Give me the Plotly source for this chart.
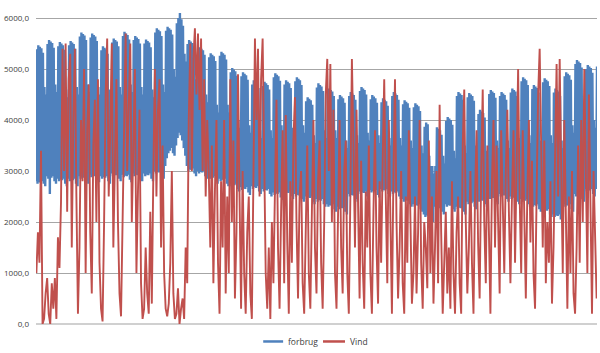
import plotly.graph_objects as go

# Daily consumption peak (day) values, one row per week
forbrug_peak = [
    5390, 5470, 5440, 5410, 5320, 4650, 4500,
    5490, 5570, 5540, 5510, 5420, 4700, 4550,
    5450, 5530, 5500, 5470, 5380, 4600, 4450,
    5470, 5550, 5520, 5490, 5400, 4650, 4500,
    5640, 5720, 5690, 5660, 5570, 4700, 4550,
    5620, 5700, 5670, 5640, 5550, 4650, 4500,
    5370, 5450, 5420, 5390, 5300, 4600, 4450,
    5520, 5600, 5570, 5540, 5450, 4650, 4500,
    5650, 5730, 5700, 5670, 5580, 4700, 4550,
    5570, 5650, 5620, 5590, 5500, 4650, 4500,
    5500, 5580, 5550, 5520, 5430, 4600, 4450,
    5720, 5800, 5770, 5740, 5650, 4700, 4550,
    5750, 5830, 5800, 5770, 5680, 5000, 4850,
    5900, 6000, 6100, 5980, 5850, 5300, 5150,
    5490, 5570, 5540, 5510, 5420, 4800, 4650,
    5350, 5430, 5400, 5370, 5280, 4500, 4350,
    5230, 5310, 5280, 5250, 5160, 4300, 4150,
    5260, 5340, 5310, 5280, 5190, 4300, 4150,
    4940, 5020, 4990, 4960, 4870, 4000, 3850,
    4860, 4940, 4910, 4880, 4790, 3900, 3750,
    4700, 4780, 4750, 4720, 4630, 3800, 3650,
    4670, 4750, 4720, 4690, 4600, 3800, 3650,
    4840, 4920, 4890, 4860, 4770, 3900, 3750,
    4700, 4780, 4750, 4720, 4630, 3850, 3700,
    4760, 4840, 4810, 4780, 4690, 3900, 3750,
    4370, 4450, 4420, 4390, 4300, 3700, 3550,
    4640, 4720, 4690, 4660, 4570, 3800, 3650,
    4540, 4620, 4590, 4560, 4470, 3800, 3650,
    4410, 4490, 4460, 4430, 4340, 3600, 3450,
    4470, 4550, 4520, 4490, 4400, 3700, 3550,
    4570, 4650, 4620, 4590, 4500, 3750, 3600,
    4410, 4490, 4460, 4430, 4340, 3700, 3550,
    4350, 4430, 4400, 4370, 4280, 3650, 3500,
    4470, 4550, 4520, 4490, 4400, 3650, 3500,
    4310, 4390, 4360, 4330, 4240, 3600, 3450,
    4250, 4330, 4300, 4270, 4180, 3500, 3350,
    3870, 3950, 3920, 3300, 3100, 3100, 2950,
    3100, 3860, 3830, 3800, 3710, 3300, 3150,
    3980, 4060, 4030, 4000, 3910, 3400, 3250,
    4470, 4550, 4520, 4490, 4400, 3500, 3350,
    4450, 4530, 4500, 4470, 4380, 3500, 3350,
    4120, 4200, 4170, 4140, 4050, 3400, 3250,
    4510, 4590, 4560, 4530, 4440, 3600, 3450,
    4470, 4550, 4520, 4490, 4400, 3600, 3450,
    4540, 4620, 4590, 4560, 4470, 3650, 3500,
    4760, 4840, 4810, 4780, 4690, 3700, 3550,
    4610, 4690, 4660, 4630, 4540, 3600, 3450,
    4740, 4820, 4790, 4760, 4670, 3700, 3550,
    4540, 4620, 4590, 4560, 4470, 3600, 3450,
    4860, 4940, 4910, 4880, 4790, 3900, 3750,
    5100, 5180, 5150, 5120, 5030, 4000, 3850,
    5000, 5080, 5050, 5020, 4930, 4000, 3850,
    5050,
]

# Daily consumption low (night) values, one row per week
forbrug_low = [
    2800, 2750, 2780, 2770, 2800, 2750, 2700,
    2900, 2850, 2550, 2870, 2900, 2800, 2750,
    2850, 2800, 2830, 2820, 2850, 2750, 2700,
    2850, 2800, 2830, 2820, 2850, 2750, 2700,
    2900, 2850, 2880, 2870, 2900, 2800, 2750,
    2930, 2880, 2910, 2900, 2930, 2830, 2780,
    2900, 2850, 2880, 2870, 2900, 2800, 2750,
    2950, 2900, 2930, 2920, 2950, 2850, 2800,
    2930, 2880, 2910, 2900, 2930, 2830, 2780,
    2950, 2900, 2930, 2920, 2950, 2850, 2800,
    2950, 2900, 2930, 2920, 2950, 2850, 2800,
    3000, 2950, 2980, 2970, 3000, 2900, 2850,
    3100, 3250, 3350, 3400, 3450, 3350, 3300,
    3500, 3650, 3750, 3700, 3600, 3450, 3300,
    3100, 3000, 3030, 3020, 3050, 2950, 2900,
    3000, 2950, 2980, 2970, 3000, 2900, 2850,
    2900, 2850, 2880, 2870, 2900, 2800, 2750,
    2850, 2800, 2830, 2820, 2850, 2750, 2700,
    2750, 2700, 2730, 2720, 2750, 2650, 2600,
    2680, 2630, 2660, 2650, 2680, 2580, 2530,
    2700, 2650, 2680, 2670, 2700, 2600, 2550,
    2650, 2600, 2630, 2620, 2650, 2550, 2500,
    2580, 2530, 2560, 2550, 2580, 2480, 2430,
    2600, 2550, 2580, 2570, 2600, 2500, 2450,
    2550, 2500, 2530, 2520, 2550, 2450, 2400,
    2500, 2450, 2480, 2470, 2500, 2400, 2350,
    2450, 2400, 2430, 2420, 2450, 2350, 2300,
    2350, 2300, 2330, 2320, 2350, 2250, 2200,
    2300, 2250, 2280, 2270, 2300, 2200, 2150,
    2550, 2500, 2530, 2520, 2550, 2450, 2400,
    2600, 2550, 2580, 2570, 2600, 2500, 2450,
    2630, 2580, 2610, 2600, 2630, 2530, 2480,
    2650, 2600, 2630, 2620, 2650, 2550, 2500,
    2600, 2550, 2580, 2570, 2600, 2500, 2450,
    2450, 2400, 2430, 2420, 2450, 2350, 2300,
    2350, 2300, 2330, 2320, 2350, 2250, 2200,
    2150, 2100, 2130, 2120, 2150, 2050, 2000,
    2300, 2250, 2280, 2270, 2300, 2200, 2150,
    2350, 2300, 2330, 2320, 2350, 2250, 2200,
    2300, 2250, 2280, 2270, 2300, 2200, 2150,
    2400, 2350, 2380, 2370, 2400, 2300, 2250,
    2450, 2400, 2430, 2420, 2450, 2350, 2300,
    2500, 2450, 2480, 2470, 2500, 2400, 2350,
    2550, 2500, 2530, 2520, 2550, 2450, 2400,
    2500, 2450, 2480, 2470, 2500, 2400, 2350,
    2450, 2400, 2430, 2420, 2450, 2350, 2300,
    2350, 2300, 2330, 2320, 2350, 2250, 2200,
    2250, 2200, 2230, 2220, 2250, 2150, 2100,
    2150, 2100, 2130, 2120, 2150, 2050, 2000,
    2350, 2300, 2330, 2320, 2350, 2250, 2200,
    2550, 2500, 2530, 2520, 2550, 2450, 2400,
    2650, 2600, 2630, 2620, 2650, 2550, 2500,
    2650,
]

# Daily wind production
vind = [
    1000, 1800, 1200, 3400,
    0, 100, 600, 900, 200, 0, 800, 300, 900, 100,
    1700, 1100, 2400, 5400,
    3000, 5500, 2200, 4800, 5300, 1500, 4000, 5400, 2500, 200,
    1500, 4000, 2800, 5000, 1000, 3800, 4700, 1800, 600, 3500, 4400, 2000, 4800, 1200, 300, 50,
    2000, 4500, 5600, 2500, 3800, 5500, 1500, 3000, 4800, 2000, 600, 150,
    1800, 4000, 5700, 3000, 4600, 5500, 2000, 3600, 5000, 1000, 2500, 4200, 800,
    100, 300, 1500, 600, 200, 2200, 400,
    3000, 5000, 2500, 4200, 4800, 1500, 3500, 1000, 300, 150,
    400, 1200, 3000, 600, 100,
    200, 700, 0, 300, 500, 100, 1500, 800,
    4000, 5500, 3000, 5200, 5800, 4500, 5700, 4200, 5600, 3000, 4800, 2500, 4000, 3000,
    1500, 3500, 800, 2600, 4000, 1200, 200, 2800, 1500, 4000, 600, 2500, 1000,
    4800, 2000, 3600, 500, 1800, 4900, 2500, 300,
    3000, 1000, 200, 1800, 2500, 600, 100,
    3500, 5600, 4000, 5400, 2500, 4800, 5600, 3000, 1000, 300, 1500, 100,
    2000, 800, 3000, 4400, 1500, 300, 2200, 3800, 800, 4100, 1600, 200, 2800,
    1200, 3600, 4450, 2000, 500, 2500, 3000, 800, 200, 1800, 3500, 1000, 300,
    2200, 4000, 1500, 600, 2800, 3600, 1200, 300, 2000, 4500, 5200, 3000, 5100, 2000,
    4200, 1000, 300, 2500, 4000, 1500, 600, 3000, 3600, 1000, 200,
    2500, 5200, 3500, 1500, 4200, 2000, 500, 3200, 1200, 300, 2600, 1500,
    3500, 1000, 200, 2200, 3800, 1500, 400, 2800, 1200, 3200, 4800, 2500, 800, 4000, 1500, 200,
    3000, 4800, 2000, 500, 1500, 3000, 800, 200, 2500, 1200, 3800, 1800, 400, 1000,
    2500, 600, 1800, 4000, 1200, 300, 2000, 1500, 700, 3600, 1000, 2500, 400, 1500, 3000, 800, 4300,
    1800, 200, 1200, 2200, 600, 1500, 300, 2800, 1000, 200, 1800, 2500, 800, 200, 3500, 4600,
    2000, 600, 1500, 3000, 1200, 200, 2500, 3800, 1600, 500, 3000, 4600, 2000, 800, 3500, 1500, 200,
    2800, 4000, 1500, 3500, 2000, 600, 3800, 2600, 1000, 3000, 4200, 2200, 800, 2500, 3800,
    1200, 3000, 5000, 2500, 1000, 3800, 2000, 500, 2600, 4000, 1600, 3200, 1000, 300, 2500,
    4500, 5400, 3000, 1500, 3600, 800, 2000, 1200, 2800, 400, 1500, 3800, 5100, 2500, 5200,
    3000, 1000, 4000, 2000, 300, 2500, 1000, 3000, 600, 200, 1500, 3500, 1200,
    4000, 2000, 5000, 3200, 1000, 4500, 2500, 200, 3000, 1500, 500,
]

series_names = ["forbrug", "Vind"]
series_colors = ["#4F81BD", "#C0504D"]

y_tickvals = [0, 1000, 2000, 3000, 4000, 5000, 6000]
y_ticktext = ["0,0", "1000,0", "2000,0", "3000,0", "4000,0", "5000,0", "6000,0"]

# Build the consumption trace: night low, then day peak, for every day
bx, by = [], []
for d in range(len(forbrug_peak)):
    bx += [d, d + 0.5]
    by += [forbrug_low[d], forbrug_peak[d]]

vx = [d + 0.25 for d in range(len(vind))]

fig = go.Figure()
fig.add_trace(go.Scatter(x=bx, y=by, mode="lines", name=series_names[0],
                         line=dict(color=series_colors[0], width=2.4)))
fig.add_trace(go.Scatter(x=vx, y=vind, mode="lines", name=series_names[1],
                         line=dict(color=series_colors[1], width=1.9)))

# Legend drawn in the bottom margin (paper coordinates) so the plot area keeps its size
legend_y = -0.056
legend_items = [(0.405, 0.4405, 0.4456), (0.5116, 0.5508, 0.5561)]
for (x0, x1, xt), name, color in zip(legend_items, series_names, series_colors):
    fig.add_shape(type="line", xref="paper", yref="paper", x0=x0, x1=x1,
                  y0=legend_y, y1=legend_y, line=dict(color=color, width=2.5))
    fig.add_annotation(xref="paper", yref="paper", x=xt, y=legend_y, text=name,
                       showarrow=False, xanchor="left", yanchor="middle",
                       font=dict(size=8.5, color="#404040"))

fig.update_layout(
    width=600, height=353,
    margin=dict(l=36, r=3, t=12, b=29),
    paper_bgcolor="white", plot_bgcolor="white",
    font=dict(family="Open Sans, Liberation Sans, sans-serif", size=8, color="#404040"),
    showlegend=False,
    xaxis=dict(range=[0, len(forbrug_peak) - 0.5], showticklabels=False, showgrid=False,
               zeroline=False, showline=False, ticks=""),
    yaxis=dict(range=[0, 6120], tickvals=y_tickvals, ticktext=y_ticktext,
               showgrid=True, gridcolor="#A6A6A6", gridwidth=1,
               zeroline=True, zerolinecolor="#D0D0D0", zerolinewidth=2,
               showline=False, ticks="", ticklabelstandoff=6),
)

fig.write_html("out.html")
